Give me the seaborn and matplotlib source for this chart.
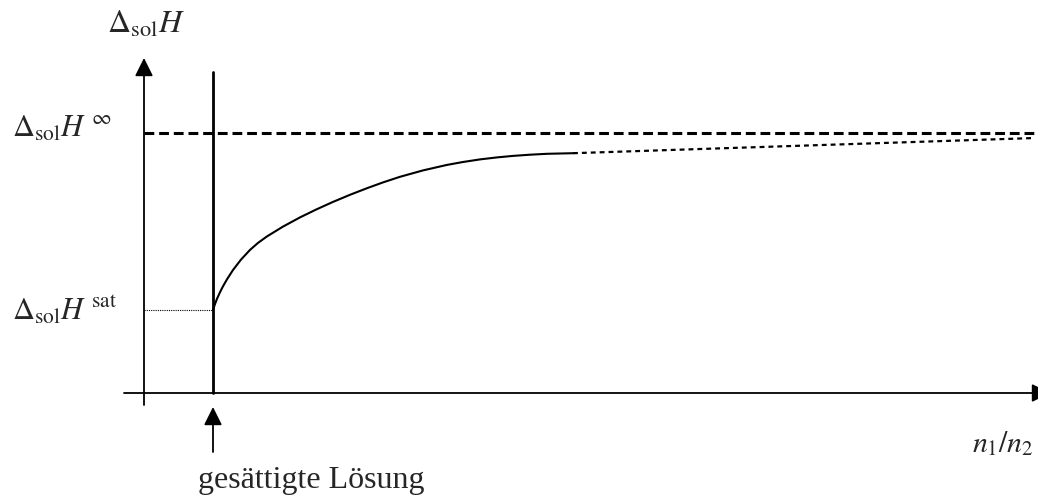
import matplotlib
matplotlib.use("Agg")
import matplotlib.pyplot as plt
import seaborn as sns
import pandas as pd

# schematic units: x measured from the y-axis, y measured from the x-axis
curve_x = [69, 71, 73, 76, 79, 83, 89, 97, 106, 114, 123, 139, 156, 172,
           189, 206, 223, 239, 256, 279, 303, 319, 336, 353, 369, 386, 403, 429]
curve_y = [83, 89, 94.2, 100.8, 106.7, 113.7, 123, 133.4, 143.1, 150.1, 156.6,
           166.4, 175.6, 183.4, 191.1, 198.2, 204.8, 210.6, 216.2, 222.6,
           228.1, 231, 233.6, 235.6, 237.1, 238.3, 239.2, 239.8]
extrap_x = [429, 891]
extrap_y = [239.8, 255]
h_inf = 260
h_sat = 83
x_sat = 69

sns.set_theme(style="white")
plt.rcParams["font.family"] = ["Liberation Serif", "DejaVu Serif"]
plt.rcParams["mathtext.fontset"] = "stix"

fig = plt.figure(figsize=(10.38, 4.97), dpi=100)
ax = fig.add_axes([0, 0, 1, 1])
ax.set_xlim(-144, 894)
ax.set_ylim(-104, 393)
ax.axis("off")

curve = pd.DataFrame({"x": curve_x, "y": curve_y})
sns.lineplot(data=curve, x="x", y="y", ax=ax, color="black", lw=1.5,
             sort=False, estimator=None)
ext = pd.DataFrame({"x": extrap_x, "y": extrap_y})
sns.lineplot(data=ext, x="x", y="y", ax=ax, color="black", lw=1.6,
             linestyle=(0, (2.2, 1.8)), estimator=None)

# asymptote and saturation level
ax.plot([0, 894], [h_inf, h_inf], color="black", lw=2.2, linestyle=(0, (3.2, 1.6)))
ax.plot([0, x_sat], [h_sat, h_sat], color="black", lw=0.8, linestyle=(0, (1, 1)))

# saturation boundary
ax.plot([x_sat, x_sat], [0, 321], color="black", lw=2.0)

# axes with arrows
arrow = dict(arrowstyle="-|>,head_length=1.1,head_width=0.55", color="black",
             lw=1.3, mutation_scale=10, shrinkA=0, shrinkB=0)
ax.annotate("", xy=(0, 335), xytext=(0, -12), arrowprops=arrow,
            annotation_clip=False)
ax.annotate("", xy=(906, 0), xytext=(-20, 0), arrowprops=arrow,
            annotation_clip=False)
ax.annotate("", xy=(x_sat, -14), xytext=(x_sat, -59), arrowprops=arrow,
            annotation_clip=False)

ms = 22
ax.text(-37, 360, r"$\Delta_{\mathrm{sol}}H$", fontsize=23, ha="left", va="baseline")
ax.text(-132, 256, r"$\Delta_{\mathrm{sol}}H^{\ \infty}$", fontsize=ms, ha="left", va="baseline")
ax.text(-132, 73, r"$\Delta_{\mathrm{sol}}H^{\ \mathrm{sat}}$", fontsize=ms, ha="left", va="baseline")
ax.text(828, -59, r"$n_1/n_2$", fontsize=21.5, ha="left", va="baseline")
ax.text(54, -95, "gesättigte Lösung", fontsize=23, ha="left", va="baseline")

fig.savefig("out.png", dpi=100)
